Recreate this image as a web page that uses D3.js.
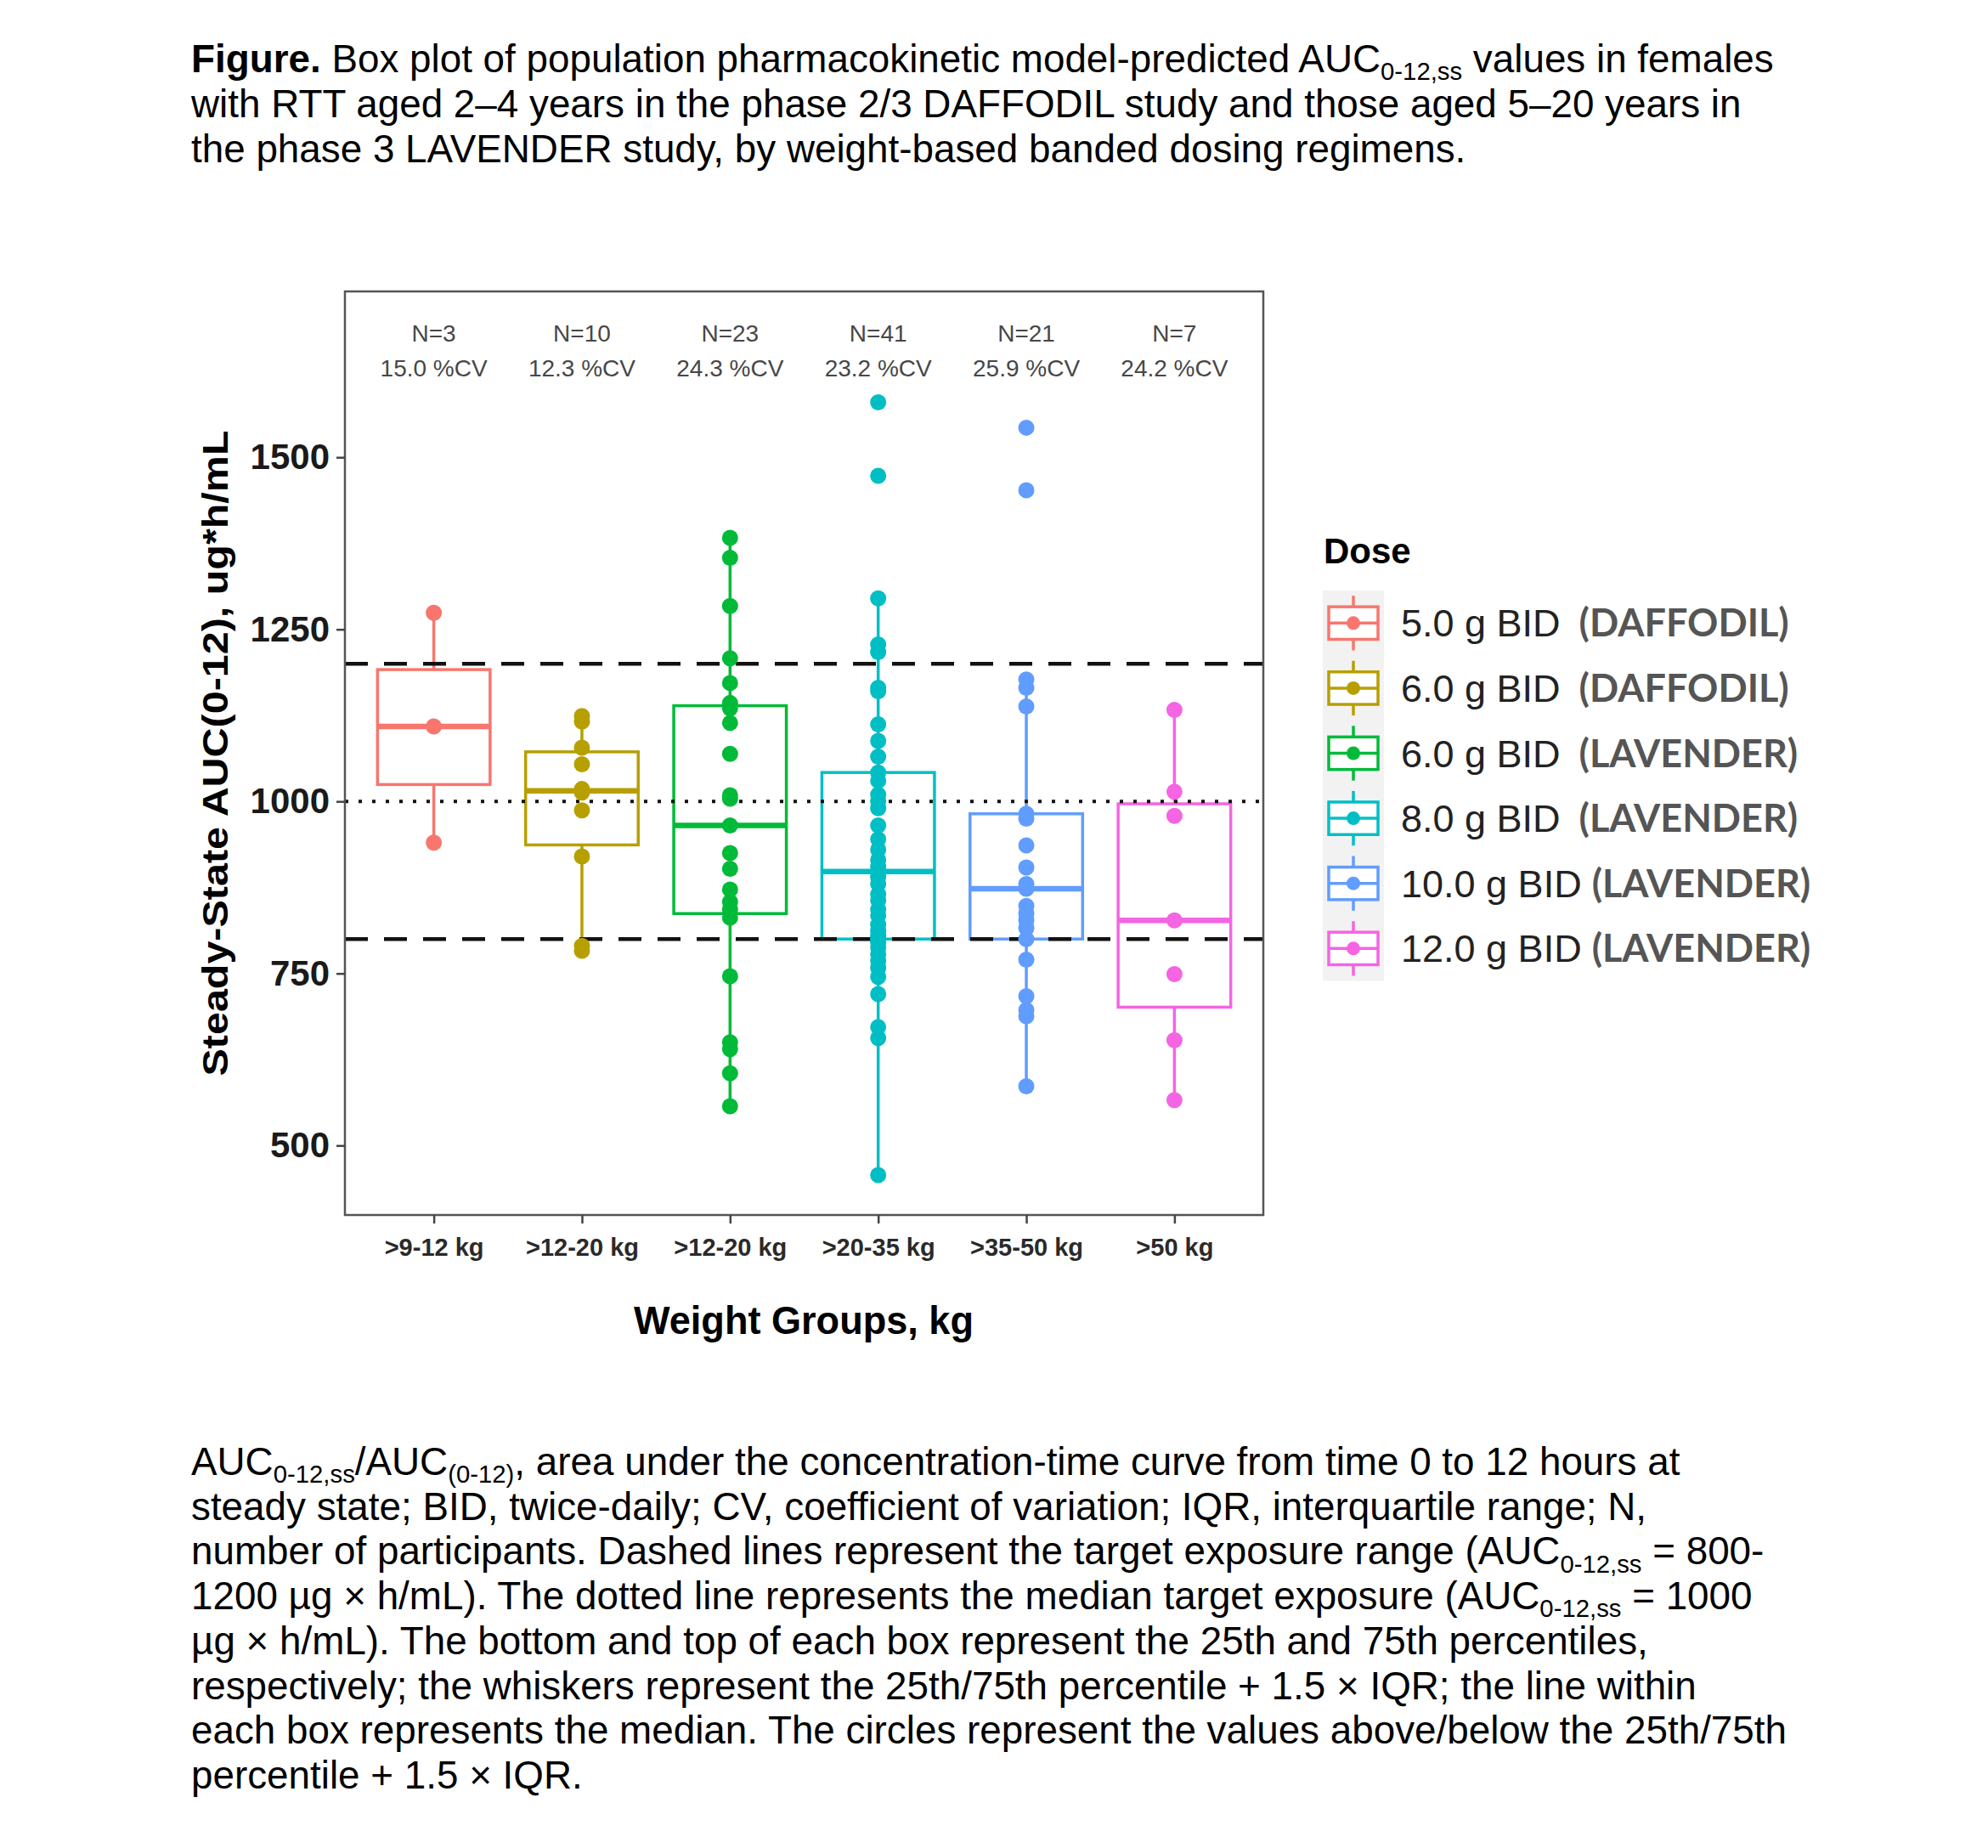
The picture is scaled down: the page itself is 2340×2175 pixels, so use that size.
<!DOCTYPE html>
<html>
<head>
<meta charset="utf-8">
<script src="https://cdn.jsdelivr.net/npm/d3@7"></script>
<style>
  body { margin: 0; background: #fff; }
  svg { display: block; font-family: "Liberation Sans", Arial, sans-serif; }
</style>
</head>
<body>
<svg id="fig" width="2340" height="2175"></svg>
<script>
// weight bands (x axis)
var groups = [">9-12 kg", ">12-20 kg", ">12-20 kg", ">20-35 kg", ">35-50 kg", ">50 kg"];

// model-predicted AUC values
var aucGroup1 = [940, 1109, 1274];
var aucGroup2 = [783, 790, 920, 987, 1013, 1018, 1054, 1078, 1116, 1124];
var aucGroup3 = [557, 605, 640, 650, 746, 831, 843, 854, 872, 902, 925, 965, 1004, 1009,
                 1069, 1114, 1135, 1143, 1172, 1208, 1284, 1354, 1383];
var aucGroup4 = [457, 656, 672, 720, 745, 758, 768, 778, 788, 795, 800, 805, 812, 821, 834,
                 843, 856, 865, 880, 890, 898, 905, 915, 930, 945, 965, 990, 1000, 1010, 1030,
                 1042, 1065, 1088, 1112, 1160, 1165, 1217, 1228, 1295, 1473, 1580];
var aucGroup5 = [586, 688, 697, 717, 770, 800, 816, 827, 837, 848, 873, 880, 904, 936, 975,
                 982, 1138, 1165, 1177, 1452, 1543];
var aucGroup6 = [566, 653, 749, 827, 979, 1014, 1133];

var nLabels = ["N=3", "N=10", "N=23", "N=41", "N=21", "N=7"];
var cvLabels = ["15.0 %CV", "12.3 %CV", "24.3 %CV", "23.2 %CV", "25.9 %CV", "24.2 %CV"];

var doseLabels = ["5.0 g BID", "6.0 g BID", "6.0 g BID", "8.0 g BID", "10.0 g BID", "12.0 g BID"];
var studyLabels = ["(DAFFODIL)", "(DAFFODIL)", "(LAVENDER)", "(LAVENDER)", "(LAVENDER)", "(LAVENDER)"];
var colors = ["#F8766D", "#B79F00", "#00BA38", "#00BFC4", "#619CFF", "#F564E3"];

var yTicks = [500, 750, 1000, 1250, 1500];
var targetRange = [800, 1200];
var targetMedian = 1000;

var allGroups = [aucGroup1, aucGroup2, aucGroup3, aucGroup4, aucGroup5, aucGroup6];

var svg = d3.select("#fig");

// panel edges
var pL = 406, pR = 1487, pT = 343, pB = 1430;

var x = d3.scalePoint()
    .domain(d3.range(groups.length))
    .range([pL, pR])
    .padding(0.6);

var y = d3.scaleLinear()
    .domain([399, 1741])
    .range([pB, pT]);

var boxW = x.step() * 0.76;

// boxplot stats like ggplot (type 7 quantiles, 1.5 IQR whiskers)
var stats = allGroups.map(function(vals, i) {
    var s = vals.slice().sort(d3.ascending);
    var q1 = d3.quantile(s, 0.25), med = d3.quantile(s, 0.5), q3 = d3.quantile(s, 0.75);
    var iqr = q3 - q1;
    var lo = d3.min(s.filter(v => v >= q1 - 1.5 * iqr));
    var hi = d3.max(s.filter(v => v <= q3 + 1.5 * iqr));
    return { i: i, q1: q1, med: med, q3: q3, lo: lo, hi: hi };
});

var plot = svg.append("g");

var box = plot.selectAll("g.box")
    .data(stats)
    .join("g")
    .attr("class", "box")
    .attr("stroke", d => colors[d.i])
    .attr("fill", "none");

box.append("line")
    .attr("x1", d => x(d.i)).attr("x2", d => x(d.i))
    .attr("y1", d => y(d.hi)).attr("y2", d => y(d.q3))
    .attr("stroke-width", 3.5);

box.append("line")
    .attr("x1", d => x(d.i)).attr("x2", d => x(d.i))
    .attr("y1", d => y(d.q1)).attr("y2", d => y(d.lo))
    .attr("stroke-width", 3.5);

box.append("rect")
    .attr("x", d => x(d.i) - boxW / 2)
    .attr("width", boxW)
    .attr("y", d => y(d.q3))
    .attr("height", d => y(d.q1) - y(d.q3))
    .attr("fill", "#fff")
    .attr("stroke-width", 3.5);

box.append("line")
    .attr("x1", d => x(d.i) - boxW / 2).attr("x2", d => x(d.i) + boxW / 2)
    .attr("y1", d => y(d.med)).attr("y2", d => y(d.med))
    .attr("stroke-width", 6.5);

// target lines
plot.selectAll("line.target")
    .data(targetRange)
    .join("line")
    .attr("class", "target")
    .attr("x1", pL).attr("x2", pR)
    .attr("y1", d => y(d)).attr("y2", d => y(d))
    .attr("stroke", "#111")
    .attr("stroke-width", 4.5)
    .attr("stroke-dasharray", "27 19");

plot.append("line")
    .attr("x1", pL).attr("x2", pR)
    .attr("y1", y(targetMedian)).attr("y2", y(targetMedian))
    .attr("stroke", "#111")
    .attr("stroke-width", 4)
    .attr("stroke-dasharray", "4 12");

// points
allGroups.forEach(function(vals, i) {
    plot.append("g")
        .attr("fill", colors[i])
        .selectAll("circle")
        .data(vals)
        .join("circle")
        .attr("cx", x(i))
        .attr("cy", d => y(d))
        .attr("r", 9.5);
});

// N / CV annotations
plot.selectAll("text.n")
    .data(nLabels)
    .join("text")
    .attr("class", "n")
    .attr("x", (d, i) => x(i))
    .attr("y", pT + 59)
    .attr("text-anchor", "middle")
    .attr("fill", "#474747")
    .style("font-size", "28px")
    .text(d => d);

plot.selectAll("text.cv")
    .data(cvLabels)
    .join("text")
    .attr("class", "cv")
    .attr("x", (d, i) => x(i))
    .attr("y", pT + 100)
    .attr("text-anchor", "middle")
    .attr("fill", "#474747")
    .style("font-size", "28px")
    .text(d => d);

// panel border
svg.append("rect")
    .attr("x", pL).attr("y", pT)
    .attr("width", pR - pL).attr("height", pB - pT)
    .attr("fill", "none")
    .attr("stroke", "#555")
    .attr("stroke-width", 2.5);

// axes
var yAxis = svg.append("g")
    .attr("transform", `translate(${pL},0)`)
    .call(d3.axisLeft(y).tickValues(yTicks).tickFormat(d3.format("d")).tickSize(10).tickPadding(8));
yAxis.select(".domain").remove();
yAxis.selectAll(".tick line").attr("stroke", "#444").attr("stroke-width", 2.5);
yAxis.selectAll(".tick text")
    .attr("fill", "#1a1a1a")
    .style("font-size", "42px")
    .style("font-weight", "bold")
    .style("font-family", "'Liberation Sans', Arial, sans-serif");

var xAxis = svg.append("g")
    .attr("transform", `translate(0,${pB})`)
    .call(d3.axisBottom(x).tickFormat(i => groups[i]).tickSize(10).tickPadding(17));
xAxis.select(".domain").remove();
xAxis.selectAll(".tick line").attr("stroke", "#444").attr("stroke-width", 2.5);
xAxis.selectAll(".tick text")
    .attr("fill", "#2a2a2a")
    .style("font-size", "29px")
    .style("font-weight", "bold")
    .style("font-family", "'Liberation Sans', Arial, sans-serif");

svg.append("text")
    .attr("x", 946)
    .attr("y", 1570)
    .attr("text-anchor", "middle")
    .style("font-size", "46px")
    .style("font-weight", "bold")
    .attr("textLength", 400)
    .attr("lengthAdjust", "spacingAndGlyphs")
    .text("Weight Groups, kg");

svg.append("text")
    .attr("transform", `translate(268,${(pT + pB) / 2}) rotate(-90)`)
    .attr("text-anchor", "middle")
    .style("font-size", "42px")
    .style("font-weight", "bold")
    .attr("textLength", 760)
    .attr("lengthAdjust", "spacingAndGlyphs")
    .text("Steady-State AUC(0-12), ug*h/mL");

// legend
var legX = 1557, legY = 695, keyH = 76.6, keyW = 72;
svg.append("text")
    .attr("x", 1558).attr("y", 663)
    .style("font-size", "42px")
    .style("font-weight", "bold")
    .text("Dose");

svg.append("rect")
    .attr("x", legX).attr("y", legY)
    .attr("width", keyW).attr("height", keyH * doseLabels.length)
    .attr("fill", "#f2f2f2");

var key = svg.selectAll("g.key")
    .data(doseLabels)
    .join("g")
    .attr("class", "key")
    .attr("transform", (d, i) => `translate(${legX},${legY + i * keyH})`)
    .attr("stroke", (d, i) => colors[i])
    .attr("fill", "none");

key.append("line")
    .attr("x1", keyW / 2).attr("x2", keyW / 2)
    .attr("y1", keyH * 0.08).attr("y2", keyH * 0.92)
    .attr("stroke-width", 3.5);
key.append("rect")
    .attr("x", 7).attr("width", keyW - 14)
    .attr("y", keyH * 0.25).attr("height", keyH * 0.5)
    .attr("fill", "#fff")
    .attr("stroke-width", 3.5);
key.append("line")
    .attr("x1", 7).attr("x2", keyW - 7)
    .attr("y1", keyH / 2).attr("y2", keyH / 2)
    .attr("stroke-width", 3.5);
key.append("circle")
    .attr("cx", keyW / 2).attr("cy", keyH / 2)
    .attr("r", 8)
    .attr("stroke", "none")
    .attr("fill", (d, i) => colors[i]);

var legText = svg.selectAll("text.leg")
    .data(doseLabels)
    .join("text")
    .attr("class", "leg")
    .attr("x", 1649)
    .attr("y", (d, i) => legY + i * keyH + keyH / 2 + 16)
    .style("font-size", "45px");
legText.append("tspan")
    .attr("fill", "#222")
    .text(d => d);
legText.append("tspan")
    .attr("dx", (d, i) => i < 4 ? 22 : 12)
    .attr("fill", "#555")
    .style("font-family", "Lato, 'Open Sans', sans-serif")
    .style("font-weight", "bold")
    .text((d, i) => studyLabels[i]);

// figure title and footnote
function richLine(px, py, segs, size) {
    var t = svg.append("text")
        .attr("x", px).attr("y", py)
        .attr("fill", "#000")
        .style("font-size", size + "px");
    var down = false;
    segs.forEach(function(s) {
        var ts = t.append("tspan").text(s[1]);
        if (s[0] === "b") ts.style("font-weight", "bold");
        if (s[0] === "s") {
            ts.style("font-size", (size * 0.64) + "px").attr("dy", size * 0.2);
            down = true;
        } else if (down) {
            ts.attr("dy", -size * 0.2);
            down = false;
        }
    });
}

var fs = 45.8, lh = 53;
richLine(225, 85, [["b", "Figure."], ["n", " Box plot of population pharmacokinetic model-predicted AUC"],
    ["s", "0-12,ss"], ["n", " values in females"]], fs);
richLine(225, 85 + lh, [["n", "with RTT aged 2\u20134 years in the phase 2/3 DAFFODIL study and those aged 5\u201320 years in"]], fs);
richLine(225, 85 + 2 * lh, [["n", "the phase 3 LAVENDER study, by weight-based banded dosing regimens."]], fs);

var notes = [
    [["n", "AUC"], ["s", "0-12,ss"], ["n", "/AUC"], ["s", "(0-12)"], ["n", ", area under the concentration-time curve from time 0 to 12 hours at"]],
    [["n", "steady state; BID, twice-daily; CV, coefficient of variation; IQR, interquartile range; N,"]],
    [["n", "number of participants. Dashed lines represent the target exposure range (AUC"], ["s", "0-12,ss"], ["n", " = 800-"]],
    [["n", "1200 \u00b5g \u00d7 h/mL). The dotted line represents the median target exposure (AUC"], ["s", "0-12,ss"], ["n", " = 1000"]],
    [["n", "\u00b5g \u00d7 h/mL). The bottom and top of each box represent the 25th and 75th percentiles,"]],
    [["n", "respectively; the whiskers represent the 25th/75th percentile + 1.5 \u00d7 IQR; the line within"]],
    [["n", "each box represents the median. The circles represent the values above/below the 25th/75th"]],
    [["n", "percentile + 1.5 \u00d7 IQR."]]
];
notes.forEach(function(segs, i) {
    richLine(225, 1736 + i * 52.7, segs, fs);
});
</script>
</body>
</html>
